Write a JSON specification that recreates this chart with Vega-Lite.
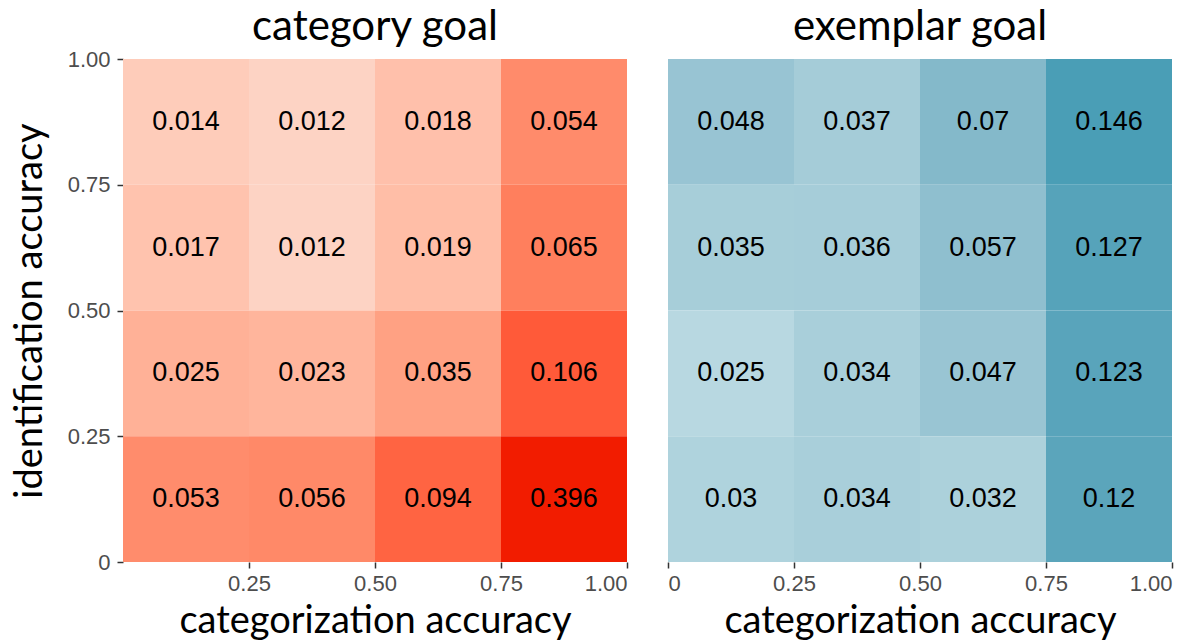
{
  "$schema": "https://vega.github.io/schema/vega-lite/v6.json",
  "padding": {"left": 11, "top": 6, "right": 5, "bottom": 0},
  "datasets": {
    "cat": [
      {"x0": 0, "x1": 0.25, "xm": 0.125, "y0": 0.75, "y1": 1, "ym": 0.875, "value": 0.014},
      {"x0": 0.25, "x1": 0.5, "xm": 0.375, "y0": 0.75, "y1": 1, "ym": 0.875, "value": 0.012},
      {"x0": 0.5, "x1": 0.75, "xm": 0.625, "y0": 0.75, "y1": 1, "ym": 0.875, "value": 0.018},
      {"x0": 0.75, "x1": 1, "xm": 0.875, "y0": 0.75, "y1": 1, "ym": 0.875, "value": 0.054},
      {"x0": 0, "x1": 0.25, "xm": 0.125, "y0": 0.5, "y1": 0.75, "ym": 0.625, "value": 0.017},
      {"x0": 0.25, "x1": 0.5, "xm": 0.375, "y0": 0.5, "y1": 0.75, "ym": 0.625, "value": 0.012},
      {"x0": 0.5, "x1": 0.75, "xm": 0.625, "y0": 0.5, "y1": 0.75, "ym": 0.625, "value": 0.019},
      {"x0": 0.75, "x1": 1, "xm": 0.875, "y0": 0.5, "y1": 0.75, "ym": 0.625, "value": 0.065},
      {"x0": 0, "x1": 0.25, "xm": 0.125, "y0": 0.25, "y1": 0.5, "ym": 0.375, "value": 0.025},
      {"x0": 0.25, "x1": 0.5, "xm": 0.375, "y0": 0.25, "y1": 0.5, "ym": 0.375, "value": 0.023},
      {"x0": 0.5, "x1": 0.75, "xm": 0.625, "y0": 0.25, "y1": 0.5, "ym": 0.375, "value": 0.035},
      {"x0": 0.75, "x1": 1, "xm": 0.875, "y0": 0.25, "y1": 0.5, "ym": 0.375, "value": 0.106},
      {"x0": 0, "x1": 0.25, "xm": 0.125, "y0": 0, "y1": 0.25, "ym": 0.125, "value": 0.053},
      {"x0": 0.25, "x1": 0.5, "xm": 0.375, "y0": 0, "y1": 0.25, "ym": 0.125, "value": 0.056},
      {"x0": 0.5, "x1": 0.75, "xm": 0.625, "y0": 0, "y1": 0.25, "ym": 0.125, "value": 0.094},
      {"x0": 0.75, "x1": 1, "xm": 0.875, "y0": 0, "y1": 0.25, "ym": 0.125, "value": 0.396}
    ],
    "ex": [
      {"x0": 0, "x1": 0.25, "xm": 0.125, "y0": 0.75, "y1": 1, "ym": 0.875, "value": 0.048},
      {"x0": 0.25, "x1": 0.5, "xm": 0.375, "y0": 0.75, "y1": 1, "ym": 0.875, "value": 0.037},
      {"x0": 0.5, "x1": 0.75, "xm": 0.625, "y0": 0.75, "y1": 1, "ym": 0.875, "value": 0.07},
      {"x0": 0.75, "x1": 1, "xm": 0.875, "y0": 0.75, "y1": 1, "ym": 0.875, "value": 0.146},
      {"x0": 0, "x1": 0.25, "xm": 0.125, "y0": 0.5, "y1": 0.75, "ym": 0.625, "value": 0.035},
      {"x0": 0.25, "x1": 0.5, "xm": 0.375, "y0": 0.5, "y1": 0.75, "ym": 0.625, "value": 0.036},
      {"x0": 0.5, "x1": 0.75, "xm": 0.625, "y0": 0.5, "y1": 0.75, "ym": 0.625, "value": 0.057},
      {"x0": 0.75, "x1": 1, "xm": 0.875, "y0": 0.5, "y1": 0.75, "ym": 0.625, "value": 0.127},
      {"x0": 0, "x1": 0.25, "xm": 0.125, "y0": 0.25, "y1": 0.5, "ym": 0.375, "value": 0.025},
      {"x0": 0.25, "x1": 0.5, "xm": 0.375, "y0": 0.25, "y1": 0.5, "ym": 0.375, "value": 0.034},
      {"x0": 0.5, "x1": 0.75, "xm": 0.625, "y0": 0.25, "y1": 0.5, "ym": 0.375, "value": 0.047},
      {"x0": 0.75, "x1": 1, "xm": 0.875, "y0": 0.25, "y1": 0.5, "ym": 0.375, "value": 0.123},
      {"x0": 0, "x1": 0.25, "xm": 0.125, "y0": 0, "y1": 0.25, "ym": 0.125, "value": 0.03},
      {"x0": 0.25, "x1": 0.5, "xm": 0.375, "y0": 0, "y1": 0.25, "ym": 0.125, "value": 0.034},
      {"x0": 0.5, "x1": 0.75, "xm": 0.625, "y0": 0, "y1": 0.25, "ym": 0.125, "value": 0.032},
      {"x0": 0.75, "x1": 1, "xm": 0.875, "y0": 0, "y1": 0.25, "ym": 0.125, "value": 0.12}
    ]
  },
  "spacing": 41,
  "bounds": "flush",
  "resolve": {"scale": {"color": "independent", "x": "independent", "y": "independent"}},
  "hconcat": [
    {
      "width": 504,
      "height": 503,
      "title": {"text": "category goal", "frame": "group", "offset": -1},
      "data": {"name": "cat"},
      "layer": [
        {
          "mark": {"type": "rect", "strokeWidth": 0},
          "encoding": {
            "x": {"field": "x0", "type": "quantitative", "scale": {"domain": [0, 1], "nice": false, "zero": false},
              "axis": {"title": "categorization accuracy", "values": [0.25, 0.5, 0.75, 1], "format": ".2f"}},
            "x2": {"field": "x1"},
            "y": {"field": "y0", "type": "quantitative", "scale": {"domain": [0, 1], "nice": false, "zero": false},
              "axis": {"title": "identification accuracy", "titlePadding": 18, "labelPadding": 7, "values": [0, 0.25, 0.5, 0.75, 1], "labelExpr": "datum.value == 0 ? '0' : format(datum.value, '.2f')"}},
            "y2": {"field": "y1"},
            "color": {"field": "value", "type": "quantitative", "legend": null,
              "scale": {"type": "log", "domain": [0.012, 0.054, 0.106, 0.396], "range": ["#fdd3c4", "#ff8b6b", "#ff5a39", "#f21c00"]}}
          }
        },
        {
          "mark": {"type": "text", "font": "Liberation Sans", "fontSize": 27, "color": "black"},
          "encoding": {
            "x": {"field": "xm", "type": "quantitative"},
            "y": {"field": "ym", "type": "quantitative"},
            "text": {"field": "value", "type": "quantitative", "format": ""}
          }
        }
      ]
    },
    {
      "width": 504,
      "height": 503,
      "title": {"text": "exemplar goal", "frame": "group", "offset": 10},
      "data": {"name": "ex"},
      "layer": [
        {
          "mark": {"type": "rect", "strokeWidth": 0},
          "encoding": {
            "x": {"field": "x0", "type": "quantitative", "scale": {"domain": [0, 1], "nice": false, "zero": false},
              "axis": {"title": "categorization accuracy", "values": [0, 0.25, 0.5, 0.75, 1], "labelExpr": "datum.value == 0 ? '0' : format(datum.value, '.2f')"}},
            "x2": {"field": "x1"},
            "y": {"field": "y0", "type": "quantitative", "scale": {"domain": [0, 1], "nice": false, "zero": false}, "axis": null},
            "y2": {"field": "y1"},
            "color": {"field": "value", "type": "quantitative", "legend": null,
              "scale": {"type": "log", "domain": [0.025, 0.047, 0.07, 0.146], "range": ["#b8d8e1", "#99c5d3", "#84b9ca", "#4a9eb6"]}}
          }
        },
        {
          "mark": {"type": "text", "font": "Liberation Sans", "fontSize": 27, "color": "black"},
          "encoding": {
            "x": {"field": "xm", "type": "quantitative"},
            "y": {"field": "ym", "type": "quantitative"},
            "text": {"field": "value", "type": "quantitative", "format": ""}
          }
        }
      ]
    }
  ],
  "config": {
    "view": {"stroke": null},
    "title": {"font": "Lato", "fontSize": 42, "fontWeight": "normal", "color": "black", "anchor": "middle"},
    "axis": {
      "grid": false,
      "domain": false,
      "labelFont": "Liberation Sans",
      "labelFontSize": 22,
      "labelColor": "#4d4d4d",
      "labelPadding": 5,
      "tickColor": "#333333",
      "tickWidth": 1.5,
      "tickSize": 6,
      "titleFont": "Lato",
      "titleFontSize": 38,
      "titleFontWeight": "normal",
      "titleColor": "black",
      "titlePadding": 8
    }
  }
}
